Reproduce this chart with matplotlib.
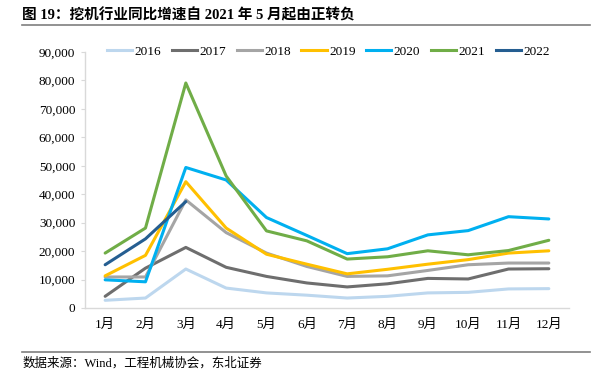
import matplotlib
matplotlib.use("Agg")
import matplotlib.pyplot as plt
from matplotlib.lines import Line2D

plt.rcParams['font.family'] = ['Liberation Serif', 'Noto Sans CJK SC', 'DejaVu Sans']

months = ['1月', '2月', '3月', '4月', '5月', '6月', '7月', '8月', '9月', '10月', '11月', '12月']

y2016 = [2700, 3500, 13700, 7000, 5300, 4500, 3500, 4100, 5300, 5500, 6700, 6800]
y2017 = [4100, 14000, 21300, 14300, 11100, 8800, 7400, 8500, 10400, 10200, 13700, 13800]
y2018 = [10900, 10900, 38000, 26500, 19300, 14600, 11100, 11300, 13200, 15200, 15800, 15800]
y2019 = [11300, 18500, 44400, 28100, 18900, 15400, 12000, 13600, 15400, 17000, 19300, 20100]
y2020 = [9900, 9200, 49400, 45000, 31800, 25500, 19100, 20800, 25700, 27200, 32100, 31300]
y2021 = [19300, 28100, 79100, 46400, 27100, 23600, 17200, 18000, 20100, 18700, 20200, 23800]
y2022 = [15200, 24300, 37400]

series = [
    ('2016', y2016, '#BDD7EE'),
    ('2017', y2017, '#6E6E6E'),
    ('2018', y2018, '#A5A5A5'),
    ('2019', y2019, '#FFC000'),
    ('2020', y2020, '#00B0F0'),
    ('2021', y2021, '#70AD47'),
    ('2022', y2022, '#255E91'),
]

fig = plt.figure(figsize=(6.07, 3.90), dpi=100)
ax = fig.add_axes([0.140, 0.2103, 0.7974, 0.6564])

x = list(range(len(months)))
handles = []
for name, vals, color in series:
    ax.plot(x[:len(vals)], vals, color=color, lw=2.2, solid_capstyle='round', solid_joinstyle='round')
    handles.append(Line2D([0], [0], color=color, lw=2.2, label=name))

ax.set_xlim(-0.5, 11.5)
ax.set_ylim(0, 90000)
ax.set_yticks(range(0, 90001, 10000))
ax.set_yticklabels([f'{v:,}' for v in range(0, 90001, 10000)], fontsize=9.5)
ax.set_xticks(x)
ax.set_xticklabels(months, fontsize=9.5)
ax.tick_params(axis='x', length=0, pad=8)
ax.tick_params(axis='y', length=3, color='#D9D9D9', pad=4)

for s in ['top', 'right']:
    ax.spines[s].set_visible(False)
for s in ['left', 'bottom']:
    ax.spines[s].set_color('#D9D9D9')
    ax.spines[s].set_linewidth(1)

ax.legend(handles=handles, loc='center', bbox_to_anchor=(0.503, 1.0), ncol=7,
          frameon=False, fontsize=9.5, handlelength=1.9, handletextpad=0.2,
          columnspacing=0.8, borderaxespad=0, borderpad=0)

fig.text(0.037, 0.962, '图 19：挖机行业同比增速自 2021 年 5 月起由正转负', fontsize=10.5,
         fontweight='bold', va='center', ha='left')
fig.add_artist(Line2D([0.037, 0.972], [0.935, 0.935], color='#7F7F7F', lw=1.2))
fig.add_artist(Line2D([0.037, 0.972], [0.097, 0.097], color='#7F7F7F', lw=1.2))
fig.text(0.037, 0.068, '数据来源：Wind，工程机械协会，东北证券', fontsize=9, va='center', ha='left')

fig.savefig('out.png', dpi=100)
